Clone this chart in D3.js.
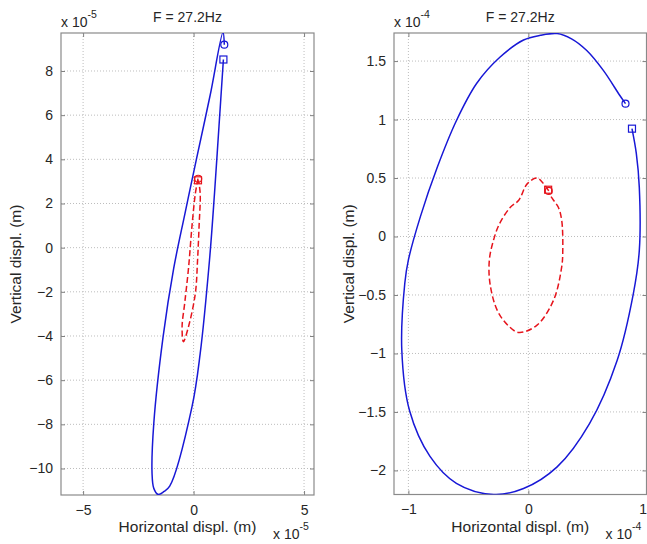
<!DOCTYPE html>
<html>
<head>
<meta charset="utf-8">
<script src="https://cdn.jsdelivr.net/npm/d3@7"></script>
<style>
  body { margin: 0; background: #fff; }
  svg { display: block; font-family: "Liberation Sans", Arial, sans-serif; }
  text { fill: #262626; }
</style>
</head>
<body>
<svg id="chart" width="647" height="544"></svg>
<script>
// ---- Data (units: left panel x1e-5 m, right panel x1e-4 m) ----
const titleText = "F = 27.2Hz";
const xLabelText = "Horizontal displ. (m)";
const yLabelText = "Vertical displ. (m)";

// Left panel
const leftXTicks = [-5, 0, 5];
const leftYTicks = [-10, -8, -6, -4, -2, 0, 2, 4, 6, 8];
const leftExponent = "-5";
const leftBlueX = [1.39, 1.33, 0.75, 0.12, -0.40, -0.90, -1.38, -1.80, -1.88, -1.80, -1.61, -1.35, -1.08, -0.07, 0.30, 0.72, 0.95, 1.15, 1.35];
const leftBlueY = [9.19, 9.75, 6.90, 3.96, 1.50, -0.94, -4.04, -7.95, -10.2, -10.9, -11.17, -11.05, -10.8, -7.2, -4.79, -0.57, 2.5, 5.5, 8.52];
const leftRedX = [0.20, 0.08, -0.07, -0.23, -0.40, -0.52, -0.46, -0.23, 0.08, 0.18, 0.25, 0.30, 0.22];
const leftRedY = [3.13, 2.45, 1.0, -0.94, -2.5, -3.58, -4.26, -3.58, -2.07, -0.57, 1.0, 2.45, 3.05];
const leftBlueCircle = [1.39, 9.19];
const leftBlueSquare = [1.35, 8.52];
const leftRedCircle = [0.21, 3.12];
const leftRedSquare = [0.20, 3.05];

// Right panel
const rightXTicks = [-1, 0, 1];
const rightYTicks = [-2, -1.5, -1, -0.5, 0, 0.5, 1, 1.5];
const rightExponent = "-4";
const rightBlueX = [0.81, 0.76, 0.625, 0.487, 0.36, 0.24, 0.10, -0.04, -0.24, -0.43, -0.60, -0.76, -0.90, -1.0, -1.03, -1.055, -0.99, -0.82, -0.60, -0.29, -0.04, 0.24, 0.51, 0.74, 0.875, 0.925, 0.925, 0.90, 0.864];
const rightBlueY = [1.136, 1.21, 1.42, 1.59, 1.69, 1.735, 1.72, 1.68, 1.53, 1.31, 0.99, 0.59, 0.17, -0.20, -0.40, -0.97, -1.49, -1.88, -2.11, -2.205, -2.155, -1.97, -1.60, -1.06, -0.49, -0.12, 0.42, 0.71, 0.922];
const rightRedX = [0.17, 0.12, 0.07, -0.01, -0.08, -0.15, -0.24, -0.29, -0.325, -0.32, -0.26, -0.17, -0.08, 0.07, 0.21, 0.278, 0.287, 0.278, 0.25, 0.21, 0.17];
const rightRedY = [0.39, 0.46, 0.50, 0.45, 0.31, 0.25, 0.11, -0.03, -0.20, -0.40, -0.63, -0.76, -0.82, -0.76, -0.545, -0.26, -0.12, 0.14, 0.25, 0.31, 0.37];
const rightBlueCircle = [0.81, 1.136];
const rightBlueSquare = [0.864, 0.922];
const rightRedCircle = [0.17, 0.39];
const rightRedSquare = [0.165, 0.40];

const blue = "#1818d6";
const red = "#e6141c";
const FONT = '"Liberation Sans", Arial, sans-serif';

const panels = [
  { left: 61, right: 314, top: 33, bottom: 495,
    xDom: [-6.0, 5.45], yDom: [-11.2, 9.72],
    xTicks: leftXTicks, yTicks: leftYTicks, exp: leftExponent, yFmt: d3.format("d"),
    blueX: leftBlueX, blueY: leftBlueY, redX: leftRedX, redY: leftRedY,
    bc: leftBlueCircle, bs: leftBlueSquare, rc: leftRedCircle, rs: leftRedSquare,
    yLabelX: 21 },
  { left: 394, right: 646.5, top: 33, bottom: 494.5,
    xDom: [-1.12, 0.985], yDom: [-2.206, 1.74],
    xTicks: rightXTicks, yTicks: rightYTicks, exp: rightExponent, yFmt: d => d3.format("")(d),
    blueX: rightBlueX, blueY: rightBlueY, redX: rightRedX, redY: rightRedY,
    bc: rightBlueCircle, bs: rightBlueSquare, rc: rightRedCircle, rs: rightRedSquare,
    yLabelX: 354 }
];

const svg = d3.select("#chart");
const defs = svg.append("defs");

panels.forEach((p, i) => {
  const x = d3.scaleLinear().domain(p.xDom).range([p.left, p.right]);
  const y = d3.scaleLinear().domain(p.yDom).range([p.bottom, p.top]);
  const w = p.right - p.left, h = p.bottom - p.top;
  const g = svg.append("g");

  defs.append("clipPath").attr("id", "clip" + i)
    .append("rect").attr("x", p.left).attr("y", p.top).attr("width", w).attr("height", h);

  // grid
  const grid = g.append("g").attr("clip-path", `url(#clip${i})`);
  grid.selectAll(".gx").data(p.xTicks).join("line")
    .attr("x1", d => x(d)).attr("x2", d => x(d)).attr("y1", p.top).attr("y2", p.bottom)
    .attr("stroke", "#bdbdbd").attr("stroke-width", 1).attr("stroke-dasharray", "1,2");
  grid.selectAll(".gy").data(p.yTicks).join("line")
    .attr("y1", d => y(d)).attr("y2", d => y(d)).attr("x1", p.left).attr("x2", p.right)
    .attr("stroke", "#bdbdbd").attr("stroke-width", 1).attr("stroke-dasharray", "1,2");

  // axes (ticks inward)
  const tickColor = "#808080";
  const axB = g.append("g").attr("transform", `translate(0,${p.bottom})`)
    .call(d3.axisBottom(x).tickValues(p.xTicks).tickSize(-4).tickPadding(10).tickFormat(d3.format("")));
  const axT = g.append("g").attr("transform", `translate(0,${p.top})`)
    .call(d3.axisTop(x).tickValues(p.xTicks).tickSize(-4).tickFormat(""));
  const axL = g.append("g").attr("transform", `translate(${p.left},0)`)
    .call(d3.axisLeft(y).tickValues(p.yTicks).tickSize(-4).tickPadding(8).tickFormat(p.yFmt));
  const axR = g.append("g").attr("transform", `translate(${p.right},0)`)
    .call(d3.axisRight(y).tickValues(p.yTicks).tickSize(-4).tickFormat(""));
  [axB, axT, axL, axR].forEach(a => {
    a.select(".domain").remove();
    a.selectAll(".tick line").attr("stroke", tickColor);
    a.selectAll("text").attr("font-size", 14).attr("fill", "#262626").attr("font-family", FONT);
  });
  // hide tick marks outside plot area; keep edge labels inside the page
  [axB, axT].forEach(a => a.selectAll(".tick line").filter(d => x(d) > p.right || x(d) < p.left).remove());
  axB.selectAll(".tick text").filter(d => x(d) > 640).attr("text-anchor", "end")
    .attr("x", d => 646.5 - x(d));

  // box
  g.append("rect").attr("x", p.left).attr("y", p.top).attr("width", w).attr("height", h)
    .attr("fill", "none").attr("stroke", "#8a8a8a").attr("stroke-width", 1.2);

  // data lines
  const plot = g.append("g").attr("clip-path", `url(#clip${i})`);
  const line = d3.line().x(d => x(d[0])).y(d => y(d[1])).curve(d3.curveCatmullRom.alpha(0.5));
  const blueData = p.blueX.map((v, k) => [v, p.blueY[k]]);
  const redData = p.redX.map((v, k) => [v, p.redY[k]]);
  plot.append("path").attr("d", line(blueData)).attr("fill", "none")
    .attr("stroke", blue).attr("stroke-width", 1.5);
  plot.append("path").attr("d", line(redData)).attr("fill", "none")
    .attr("stroke", red).attr("stroke-width", 1.5).attr("stroke-dasharray", "6,3");

  // markers
  const addCircle = (pt, c) => plot.append("circle").attr("cx", x(pt[0])).attr("cy", y(pt[1])).attr("r", 3.5)
    .attr("fill", "none").attr("stroke", c).attr("stroke-width", 1.2);
  const addSquare = (pt, c) => plot.append("rect").attr("x", x(pt[0]) - 3.5).attr("y", y(pt[1]) - 3.5)
    .attr("width", 7).attr("height", 7).attr("fill", "none").attr("stroke", c).attr("stroke-width", 1.2);
  addCircle(p.bc, blue); addSquare(p.bs, blue);
  addCircle(p.rc, red); addSquare(p.rs, red);

  // title
  const cx = (p.left + p.right) / 2;
  g.append("text").attr("x", cx).attr("y", 22).attr("text-anchor", "middle")
    .attr("font-size", 14).text(titleText);

  // exponent labels
  const expTop = g.append("text").attr("x", p.left).attr("y", 27).attr("font-size", 14);
  expTop.append("tspan").text("x 10");
  expTop.append("tspan").attr("dy", -9).attr("font-size", 10.5).text(p.exp);
  const expBot = g.append("text").attr("x", p.right - 41).attr("y", 539).attr("font-size", 14);
  expBot.append("tspan").text("x 10");
  expBot.append("tspan").attr("dy", -9).attr("font-size", 10.5).text(p.exp);

  // axis labels
  g.append("text").attr("x", cx).attr("y", 532).attr("text-anchor", "middle")
    .attr("font-size", 15.5).text(xLabelText);
  g.append("text").attr("transform", `translate(${p.yLabelX},${(p.top + p.bottom) / 2}) rotate(-90)`)
    .attr("text-anchor", "middle").attr("font-size", 15.5).text(yLabelText);
});
</script>
</body>
</html>
